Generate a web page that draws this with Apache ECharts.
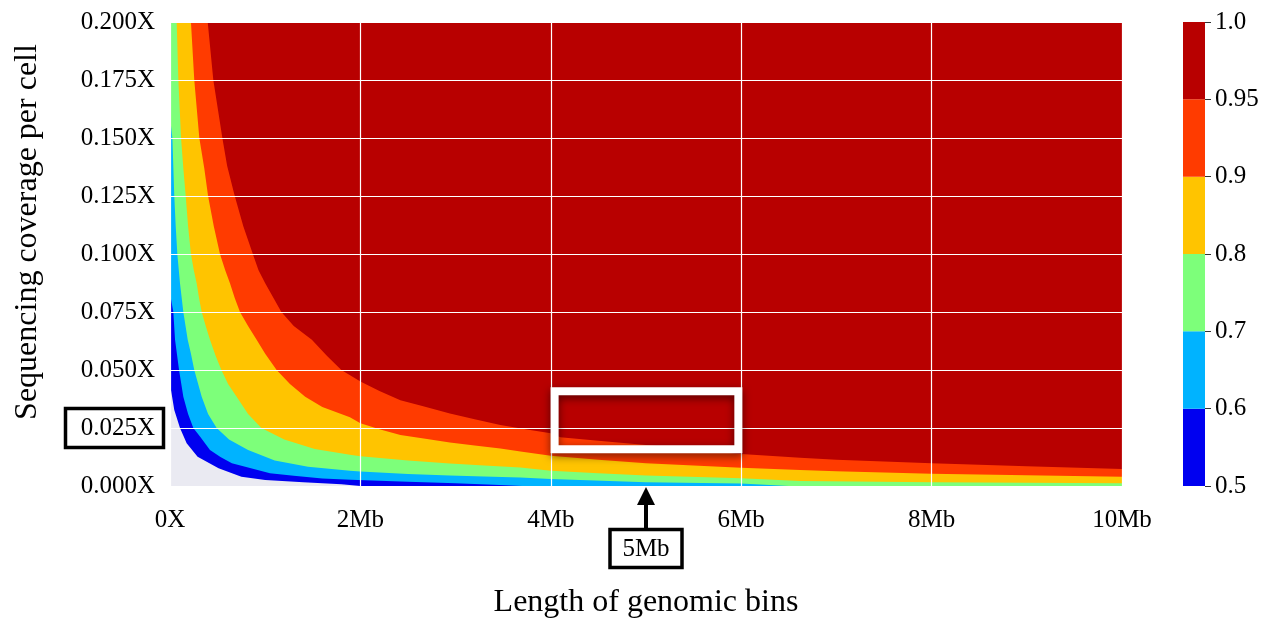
<!DOCTYPE html>
<html><head><meta charset="utf-8">
<script src="https://cdn.jsdelivr.net/npm/echarts@6/dist/echarts.min.js"></script>
<style>html,body{margin:0;padding:0;background:#fff}#c{width:1275px;height:621px}</style>
</head><body><div id="c"></div>
<script>
// colour levels and band colours
const levels = [0.5, 0.6, 0.7, 0.8, 0.9, 0.95, 1.0];
const levelLabels = ['0.5', '0.6', '0.7', '0.8', '0.9', '0.95', '1.0'];
const bandColors = ['#0000f0', '#00b3ff', '#7dff7a', '#ffc400', '#ff3b00', '#b80000'];
const xTickLabels = ['0X', '2Mb', '4Mb', '6Mb', '8Mb', '10Mb'];
const yTickLabels = ['0.000X', '0.025X', '0.050X', '0.075X', '0.100X', '0.125X', '0.150X', '0.175X', '0.200X'];

// contour boundaries [bin length (Mb), coverage (X)]
const contour050 = [[0,0.044],[0.045,0.0328],[0.105,0.025],[0.175,0.0184],[0.29,0.0126],[0.51,0.0076],[0.75,0.004],[1.0,0.0026],[1.4,0.0016],[1.8,0.0008],[2.0,0],[10,0]];
const contour060 = [[0,0.083],[0.035,0.075],[0.053,0.063],[0.095,0.05],[0.14,0.0385],[0.19,0.031],[0.245,0.025],[0.315,0.0213],[0.42,0.0155],[0.53,0.0125],[0.65,0.0098],[0.79,0.0083],[1.05,0.0055],[1.3,0.0044],[1.6,0.0032],[1.9,0.0027],[2.5,0.0018],[3.0,0.0012],[3.4,0.0005],[3.7,0],[10,0]];
const contour070 = [[0,0.159],[0.025,0.15],[0.045,0.125],[0.06,0.112],[0.077,0.1],[0.105,0.0874],[0.14,0.075],[0.186,0.063],[0.22,0.057],[0.255,0.05],[0.333,0.0385],[0.4,0.031],[0.49,0.025],[0.62,0.02],[0.82,0.0155],[1.1,0.011],[1.45,0.0083],[1.89,0.0066],[2.0,0.0062],[2.5,0.0052],[2.94,0.0045],[3.3,0.0041],[3.68,0.0037],[4.0,0.003],[5.0,0.0016],[6.0,0.0011],[6.3,0.0004],[6.5,0],[10,0]];
const contour080 = [[0.07,0.2],[0.088,0.175],[0.116,0.15],[0.14,0.137],[0.165,0.125],[0.19,0.112],[0.22,0.1],[0.25,0.093],[0.28,0.0874],[0.305,0.081],[0.333,0.075],[0.375,0.069],[0.42,0.063],[0.48,0.056],[0.54,0.05],[0.61,0.044],[0.70,0.0385],[0.82,0.031],[0.96,0.025],[1.2,0.02],[1.52,0.016],[1.89,0.0135],[2.0,0.0128],[2.5,0.011],[2.94,0.0097],[3.3,0.0088],[3.68,0.008],[4.0,0.0066],[4.5,0.0055],[5.0,0.0045],[6.0,0.0033],[6.62,0.0022],[8.0,0.0016],[10,0.0012]];
const contour090 = [[0.22,0.2],[0.255,0.175],[0.308,0.15],[0.36,0.137],[0.40,0.125],[0.46,0.112],[0.525,0.1],[0.58,0.093],[0.63,0.0874],[0.68,0.081],[0.735,0.075],[0.82,0.069],[0.91,0.063],[1.0,0.057],[1.12,0.05],[1.26,0.044],[1.42,0.0385],[1.6,0.034],[1.89,0.0296],[2.0,0.027],[2.2,0.0245],[2.42,0.022],[2.7,0.0203],[2.94,0.0187],[3.2,0.0175],[3.47,0.0162],[3.7,0.0148],[4.0,0.013],[4.5,0.0113],[5.0,0.0098],[5.5,0.0088],[6.0,0.0079],[6.62,0.0069],[7.0,0.0064],[8.0,0.0053],[9.0,0.0046],[10,0.004]];
const contour095 = [[0.396,0.2],[0.455,0.175],[0.55,0.15],[0.6,0.138],[0.68,0.125],[0.77,0.112],[0.87,0.1],[0.93,0.093],[1.0,0.0874],[1.17,0.075],[1.3,0.069],[1.49,0.063],[1.65,0.056],[1.8,0.05],[2.0,0.045],[2.2,0.041],[2.42,0.037],[2.65,0.0345],[2.94,0.0313],[3.2,0.0288],[3.47,0.0263],[3.75,0.0243],[4.0,0.0227],[4.1,0.021],[4.5,0.0195],[5.0,0.0177],[5.5,0.0157],[6.0,0.0138],[6.62,0.0122],[7.0,0.0113],[8.0,0.0098],[9.0,0.0085],[10,0.0073]];
const contours = [contour050, contour060, contour070, contour080, contour090, contour095];

// highlighted region (data coords)
const highlightBox = [[4.04, 0.0408], [5.97, 0.0158]];

const FONT = '"Liberation Serif", "DejaVu Serif", serif';
const chart = echarts.init(document.getElementById('c'));

const series = contours.map((pts, i) => ({
  type: 'line', data: pts, xAxisIndex: 0, yAxisIndex: 0,
  symbol: 'none', smooth: false, silent: true,
  lineStyle: { width: 0 },
  areaStyle: { color: bandColors[i], opacity: 1, origin: 'end' },
  z: 2
}));
bandColors.forEach((c, i) => {
  series.push({ type: 'bar', xAxisIndex: 1, yAxisIndex: 1, stack: 'cb', data: [1],
    barWidth: '100%', silent: true, itemStyle: { color: c } });
});

chart.setOption({
  animation: false,
  backgroundColor: '#ffffff',
  textStyle: { fontFamily: FONT },
  grid: [
    { left: 170, right: 153, top: 22, bottom: 135, show: true, backgroundColor: '#eaeaf2', borderWidth: 0, outerBoundsMode: 'none', containLabel: false },
    { left: 1183, width: 22, top: 22, height: 464, outerBoundsMode: 'none', containLabel: false }
  ],
  xAxis: [
    { type: 'value', gridIndex: 0, min: 0, max: 10, interval: 2, z: 5,
      axisLine: { show: false }, axisTick: { show: false },
      splitLine: { show: true, lineStyle: { color: '#ffffff', width: 1.2 } },
      axisLabel: { fontFamily: FONT, fontSize: 25, color: '#000', margin: 22,
        formatter: v => xTickLabels[Math.round(v / 2)] } },
    { type: 'category', gridIndex: 1, data: [''], show: false }
  ],
  yAxis: [
    { type: 'value', gridIndex: 0, min: 0, max: 0.2, interval: 0.025, z: 5,
      axisLine: { show: false }, axisTick: { show: false },
      splitLine: { show: true, lineStyle: { color: '#ffffff', width: 1.2 } },
      axisLabel: { fontFamily: FONT, fontSize: 25, color: '#000', margin: 15,
        formatter: v => yTickLabels[Math.round(v / 0.025)] } },
    { type: 'value', gridIndex: 1, min: 0, max: levels.length - 1, interval: 1, position: 'right',
      axisLine: { show: false }, splitLine: { show: false },
      axisTick: { show: true, length: 6, lineStyle: { color: '#333', width: 1 } },
      axisLabel: { fontFamily: FONT, fontSize: 25, color: '#000', margin: 10,
        formatter: v => levelLabels[Math.round(v)] } }
  ],
  series: series
});

// annotations; highlight box positioned through the chart's own scales
const b0 = chart.convertToPixel({ gridIndex: 0 }, highlightBox[0]);
const b1 = chart.convertToPixel({ gridIndex: 0 }, highlightBox[1]);
const arrowX = chart.convertToPixel({ gridIndex: 0 }, [5, 0])[0];
chart.setOption({
  graphic: [
    { type: 'rect', shape: { x: b0[0], y: b0[1], width: b1[0] - b0[0], height: b1[1] - b0[1] },
      style: { fill: 'none', stroke: '#ffffff', lineWidth: 8,
        shadowBlur: 8, shadowColor: 'rgba(0,0,0,0.55)', shadowOffsetY: 3 }, z: 10 },
    { type: 'text', x: 28, y: 232, rotation: Math.PI / 2,
      style: { text: 'Sequencing coverage per cell', font: '32px ' + FONT, fill: '#000',
        textAlign: 'center', textVerticalAlign: 'middle' }, z: 10 },
    { type: 'text', x: 646, y: 603,
      style: { text: 'Length of genomic bins', font: '32px ' + FONT, fill: '#000',
        textAlign: 'center', textVerticalAlign: 'middle' }, z: 10 },
    { type: 'rect', shape: { x: 65.5, y: 408.5, width: 98, height: 39 },
      style: { fill: 'none', stroke: '#000', lineWidth: 3.5 }, z: 10 },
    { type: 'rect', shape: { x: arrowX - 36, y: 529.5, width: 72, height: 38 },
      style: { fill: 'none', stroke: '#000', lineWidth: 3.5 }, z: 10 },
    { type: 'text', x: arrowX, y: 549, style: { text: '5Mb', font: '25px ' + FONT, fill: '#000',
      textAlign: 'center', textVerticalAlign: 'middle' }, z: 10 },
    { type: 'line', shape: { x1: arrowX, y1: 528, x2: arrowX, y2: 502 },
      style: { stroke: '#000', lineWidth: 4 }, z: 10 },
    { type: 'polygon', shape: { points: [[arrowX - 9, 505], [arrowX + 9, 505], [arrowX, 487]] },
      style: { fill: '#000' }, z: 10 }
  ]
});
</script></body></html>
